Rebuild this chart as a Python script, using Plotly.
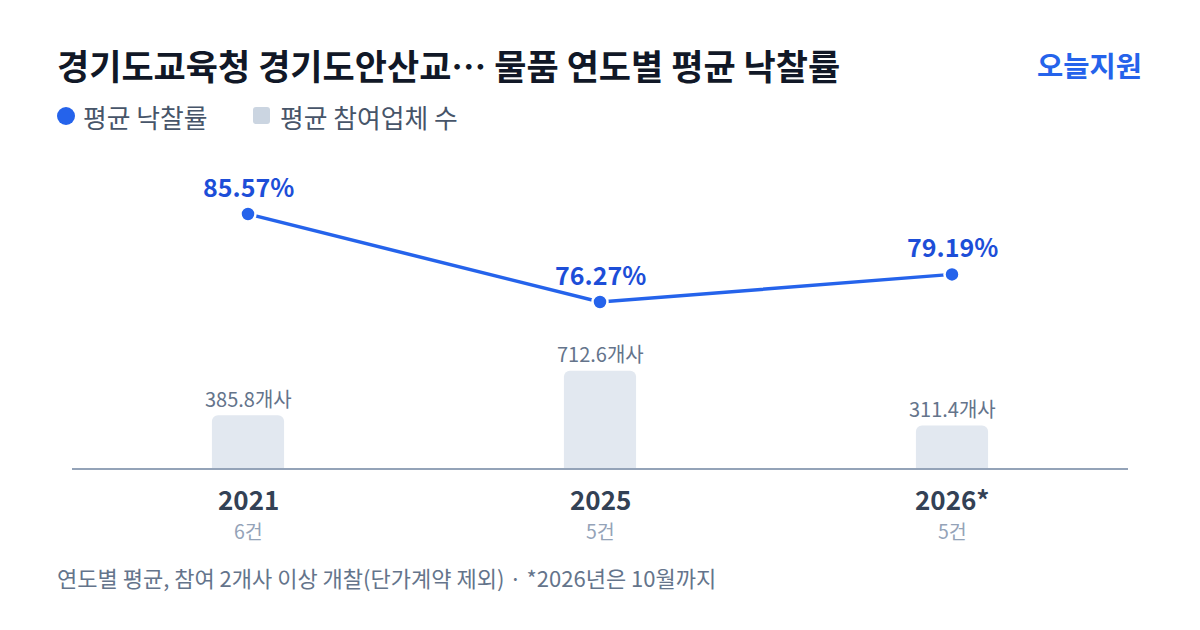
import plotly.graph_objects as go

# ---- data ----
years = ["2021", "2025", "2026*"]
counts = ["6건", "5건", "5건"]
avg_rate = [85.57, 76.27, 79.19]
avg_bidders = [385.8, 712.6, 311.4]

title_text = "경기도교육청 경기도안산교… 물품 연도별 평균 낙찰률"
brand_text = "오늘지원"
legend_line = "평균 낙찰률"
legend_bar = "평균 참여업체 수"
footnote = "연도별 평균, 참여 2개사 이상 개찰(단가계약 제외) · *2026년은 10월까지"

FONT = "Noto Sans CJK KR"
BLUE = "#2563eb"
BLUE_TXT = "#1d4ed8"
BAR = "#e2e8f0"

W, H = 1200, 630
L, R, T, B = 72, 72, 150, 162
PW, PH = W - L - R, H - T - B


def px(x):
    return (x - L) / PW


def py(y):
    return (H - B - y) / PH


fig = go.Figure()
fig.add_trace(go.Bar(
    x=years, y=avg_bidders, marker=dict(color=BAR, line=dict(width=0)),
    width=0.205, yaxis="y", hoverinfo="skip", showlegend=False,
))
fig.add_trace(go.Scatter(
    x=years, y=avg_rate, mode="lines+markers", yaxis="y2",
    line=dict(color=BLUE, width=3.5),
    marker=dict(color=BLUE, size=15, line=dict(color="white", width=2.5)),
    hoverinfo="skip", showlegend=False,
))

ann = []
for i, v in enumerate(avg_rate):
    ann.append(dict(x=i, y=v, xref="x", yref="y2", text=f"<b>{v:.2f}%</b>",
                    showarrow=False, yanchor="middle", yshift=28,
                    font=dict(family=FONT, size=25, color=BLUE_TXT)))
for i, v in enumerate(avg_bidders):
    ann.append(dict(x=i, y=v, xref="x", yref="y", text=f"{v:.1f}개사",
                    showarrow=False, yanchor="middle", yshift=17,
                    font=dict(family=FONT, size=20, color="#64748b")))
for i, (yr, c) in enumerate(zip(years, counts)):
    ann.append(dict(x=i, y=0, xref="x", yref="paper", text=f"<b>{yr}</b>",
                    showarrow=False, yanchor="middle", yshift=-30, borderpad=0,
                    font=dict(family=FONT, size=26, color="#334155")))
    ann.append(dict(x=i, y=0, xref="x", yref="paper", text=c,
                    showarrow=False, yanchor="middle", yshift=-62, borderpad=0,
                    font=dict(family=FONT, size=19.5, color="#94a3b8")))

ann.append(dict(x=px(55), y=py(64), xref="paper", yref="paper", text=f"<b>{title_text}</b>",
                showarrow=False, xanchor="left", yanchor="middle",
                font=dict(family=FONT, size=35, color="#111827")))
ann.append(dict(x=px(1144), y=py(64), xref="paper", yref="paper", text=f"<b>{brand_text}</b>",
                showarrow=False, xanchor="right", yanchor="middle",
                font=dict(family=FONT, size=28.5, color=BLUE)))
ann.append(dict(x=px(81), y=py(116), xref="paper", yref="paper", text=legend_line,
                showarrow=False, xanchor="left", yanchor="middle",
                font=dict(family=FONT, size=25.8, color="#475569")))
ann.append(dict(x=px(278), y=py(116), xref="paper", yref="paper", text=legend_bar,
                showarrow=False, xanchor="left", yanchor="middle",
                font=dict(family=FONT, size=25.8, color="#475569")))
ann.append(dict(x=px(55), y=py(577), xref="paper", yref="paper", text=footnote,
                showarrow=False, xanchor="left", yanchor="middle",
                font=dict(family=FONT, size=22, color="#64748b")))


def rounded_rect(x0, y0, x1, y1, r):
    X0, X1 = px(x0), px(x1)
    Y0, Y1 = py(y1), py(y0)
    rx, ry = r / PW, r / PH
    return (f"M {X0+rx},{Y0} L {X1-rx},{Y0} Q {X1},{Y0} {X1},{Y0+ry} "
            f"L {X1},{Y1-ry} Q {X1},{Y1} {X1-rx},{Y1} L {X0+rx},{Y1} "
            f"Q {X0},{Y1} {X0},{Y1-ry} L {X0},{Y0+ry} Q {X0},{Y0} {X0+rx},{Y0} Z")


shapes = [
    dict(type="circle", xref="paper", yref="paper",
         x0=px(57), x1=px(75), y0=py(107), y1=py(125),
         fillcolor=BLUE, line=dict(width=0)),
    dict(type="path", xref="paper", yref="paper",
         path=rounded_rect(253, 107, 270, 124, 3),
         fillcolor="#cbd5e1", line=dict(width=0)),
]

fig.update_layout(
    width=W, height=H, margin=dict(l=L, r=R, t=T, b=B),
    paper_bgcolor="white", plot_bgcolor="white",
    barcornerradius=6,
    xaxis=dict(type="category", range=[-0.5, 2.5], showticklabels=False,
               showgrid=False, zeroline=False, showline=True,
               linecolor="#94a3b8", linewidth=2, ticks=""),
    yaxis=dict(range=[0, 2330], visible=False, showgrid=False, zeroline=False),
    yaxis2=dict(range=[58.72, 92.34], overlaying="y", visible=False,
                showgrid=False, zeroline=False),
    annotations=ann, shapes=shapes, showlegend=False,
    font=dict(family=FONT),
)

fig.write_html("out.html", config={"displayModeBar": False})
